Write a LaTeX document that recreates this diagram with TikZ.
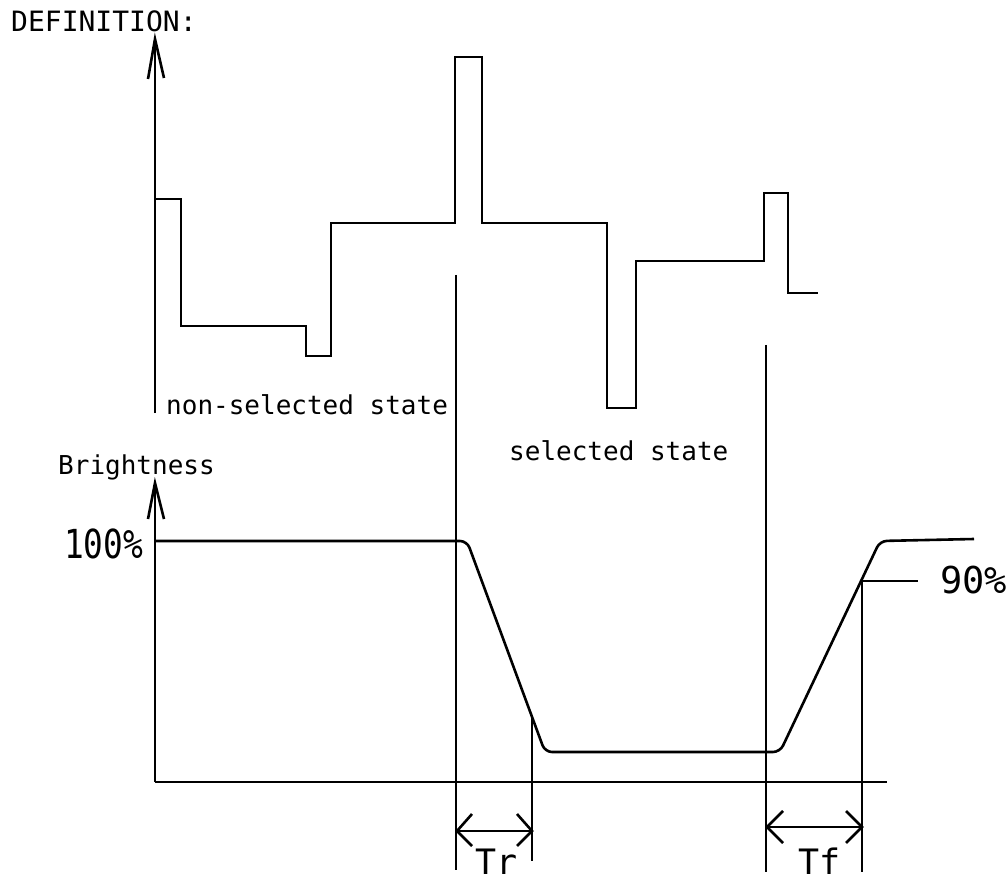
\documentclass[tikz,border=0pt]{standalone}
\usepackage{fontspec}
\setmonofont{DejaVu Sans Mono}
\begin{document}
\begin{tikzpicture}[x=1pt,y=-1pt,
  ln/.style={line width=2.6pt,line cap=butt,line join=miter},
  lbl/.style={inner sep=0pt,anchor=base west,font=\ttfamily\fontsize{26}{26}\selectfont},
  big/.style={inner sep=0pt,anchor=base west,font=\ttfamily\fontsize{40}{40}\selectfont}]
\useasboundingbox[fill=white] (0,0) rectangle (1006,882);
% axes
\draw[ln] (155,413) -- (155,39);
\draw[ln] (148,79) -- (155,39) -- (164,78);
\draw[ln] (155,782) -- (155,483);
\draw[ln] (148,519) -- (155,483) -- (164,519);
\draw[ln] (155,782) -- (887,782);
% drive waveform
\draw[ln] (155,199) -- (181,199) -- (181,326) -- (306,326) -- (306,356) -- (331,356)
  -- (331,223) -- (455,223) -- (455,57) -- (482,57) -- (482,223) -- (607,223)
  -- (607,408) -- (636,408) -- (636,261) -- (764,261) -- (764,193) -- (788,193)
  -- (788,293) -- (818,293);
% brightness curve
\draw[ln,rounded corners=7pt] (155,541) -- (467,541) -- (545,752) -- (780,752) -- (880,541) -- (974,539);
% reference lines
\coordinate (r1t) at (456,275); \coordinate (r1b) at (456,870);
\coordinate (r2t) at (766,345); \coordinate (r2b) at (766,872);
\coordinate (r3t) at (532,717); \coordinate (r3b) at (532,861);
\coordinate (r4t) at (862,581); \coordinate (r4b) at (862,872);
\draw[ln] (r1t) -- (r1b);
\draw[ln] (r2t) -- (r2b);
\draw[ln] (r3t) -- (r3b);
\draw[ln] (r4t) -- (r4b);
\draw[ln] (r4t) -- (918,581);
% Tr dimension
\draw[ln] (456,831) -- (532,831);
\draw[ln] (472,814) -- (457,831) -- (472,846);
\draw[ln] (517,814) -- (532,831) -- (517,846);
% Tf dimension
\draw[ln] (766,827) -- (862,827);
\draw[ln] (783,811) -- (767,827) -- (783,843);
\draw[ln] (846,811) -- (862,827) -- (846,843);
% texts
\node[lbl,font=\ttfamily\fontsize{28}{28}\selectfont] (def) at (11,32) {DEFINITION:};
\node[lbl] (ns) at (166,414) {non-selected state};
\node[lbl] (ss) at (509,460) {selected state};
\node[lbl] (br) at (58,474) {Brightness};
\node[big,xscale=0.82] (p100) at (64,558) {100\%};
\node[big,font=\ttfamily\fontsize{37}{37}\selectfont] (p90) at (940,593) {90\%};
\node[big,text depth=0pt,font=\ttfamily\fontsize{35}{35}\selectfont] (tr) at (475,874) {Tr};
\node[big,text depth=0pt,font=\ttfamily\fontsize{35}{35}\selectfont] (tf) at (798,874) {Tf};
\end{tikzpicture}
\end{document}
